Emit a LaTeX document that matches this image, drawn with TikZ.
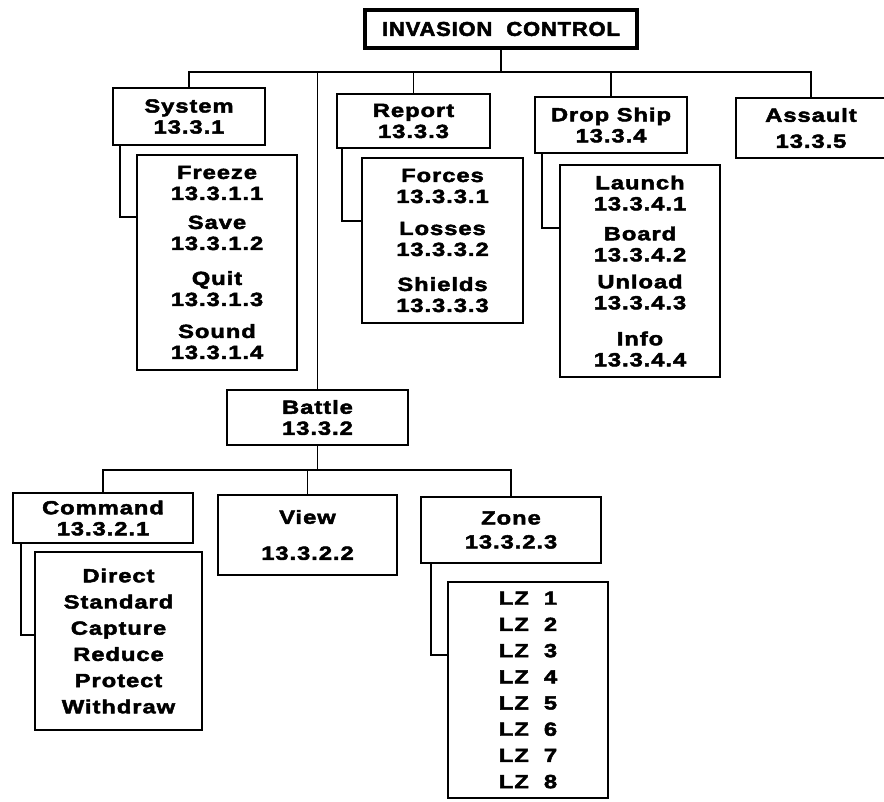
\documentclass[tikz,border=0pt]{standalone}
\usepackage{fontspec}
\setmainfont{Liberation Sans}[FakeStretch=1.25,LetterSpace=5,BoldFeatures={FakeBold=2.5}]
\newfontfamily\titlefont{Liberation Sans}[FakeStretch=1.1,LetterSpace=4,BoldFeatures={FakeBold=2.5}]

\begin{document}
\begin{tikzpicture}[x=1pt, y=-1pt,
  every node/.style={font=\fontsize{19}{21}\selectfont\bfseries, align=center, inner sep=0pt},
  box/.style args={#1x#2}{draw, line width=2.2pt, minimum width=#1pt, minimum height=#2pt},
  listbox/.style args={#1x#2}{box={#1x#2}, font=\fontsize{19}{26.2}\selectfont\bfseries},
  titlebox/.style={draw, line width=3.5pt, minimum width=272pt, minimum height=38pt, font=\titlefont\fontsize{20}{22}\selectfont\bfseries},
  wire/.style={line width=1.8pt}]
  \useasboundingbox (0,0) rectangle (884,802);

  \node[titlebox] (ic) at (501,29) {INVASION\hspace{14pt}CONTROL};

  \node[box={152x57}] (system) at (189,116.5) {System\\13.3.1};
  \node[box={153x54}] (report) at (413.5,121) {Report\\13.3.3};
  \node[box={152x56}] (dropship) at (611,125) {Drop\ Ship\\13.3.4};
  \node[box={150x60}] (assault) at (811,128) {Assault\\[5pt]13.3.5};

  \node[box={160x215}] (sysitems) at (217,262.5)
    {Freeze\\13.3.1.1\\[8pt]Save\\13.3.1.2\\[14pt]Quit\\13.3.1.3\\[11pt]Sound\\13.3.1.4};
  \node[box={161x165}] (repitems) at (442.5,240.5)
    {Forces\\13.3.3.1\\[11pt]Losses\\13.3.3.2\\[14pt]Shields\\13.3.3.3};
  \node[box={160x212}] (dropitems) at (640,271)
    {Launch\\13.3.4.1\\[9pt]Board\\13.3.4.2\\[6pt]Unload\\13.3.4.3\\[15pt]Info\\13.3.4.4};

  \node[box={181x55}] (battle) at (317.5,417.5) {Battle\\13.3.2};
  \node[box={180x50}] (command) at (103,518) {Command\\13.3.2.1};
  \node[box={179x80}] (view) at (307.5,535) {View\\[15pt]13.3.2.2};
  \node[box={180x66}] (zone) at (511,530) {Zone\\[3pt]13.3.2.3};

  \node[listbox={167x178}] (cmditems) at (118.5,641)
    {Direct\\Standard\\Capture\\Reduce\\Protect\\Withdraw};
  \node[listbox={160x216}] (zoneitems) at (528,690)
    {LZ\ \ 1\\LZ\ \ 2\\LZ\ \ 3\\LZ\ \ 4\\LZ\ \ 5\\LZ\ \ 6\\LZ\ \ 7\\LZ\ \ 8};

  \coordinate (busA) at (505,72);
  \draw[wire] (ic.south) -- (ic.south |- busA);
  \draw[wire] (system.north) |- (assault.north |- busA) -- (assault.north);
  \draw[wire] (report.north) -- (report.north |- busA);
  \draw[wire] (dropship.north) -- (dropship.north |- busA);
  \draw[wire] (battle.north) -- (battle.north |- busA);
  \draw[wire] ([xshift=8pt]system.south west) |- (sysitems.west |- 0,217);
  \draw[wire] ([xshift=6pt]report.south west) |- (repitems.west |- 0,221);
  \draw[wire] ([xshift=8pt]dropship.south west) |- (dropitems.west |- 0,228);

  \coordinate (busB) at (316,470);
  \draw[wire] (battle.south) -- (battle.south |- busB);
  \draw[wire] (command.north) |- (zone.north |- busB) -- (zone.north);
  \draw[wire] (view.north) -- (view.north |- busB);
  \draw[wire] ([xshift=9pt]command.south west) |- (cmditems.west |- 0,635);
  \draw[wire] ([xshift=11pt]zone.south west) |- (zoneitems.west |- 0,655);
\end{tikzpicture}
\end{document}
